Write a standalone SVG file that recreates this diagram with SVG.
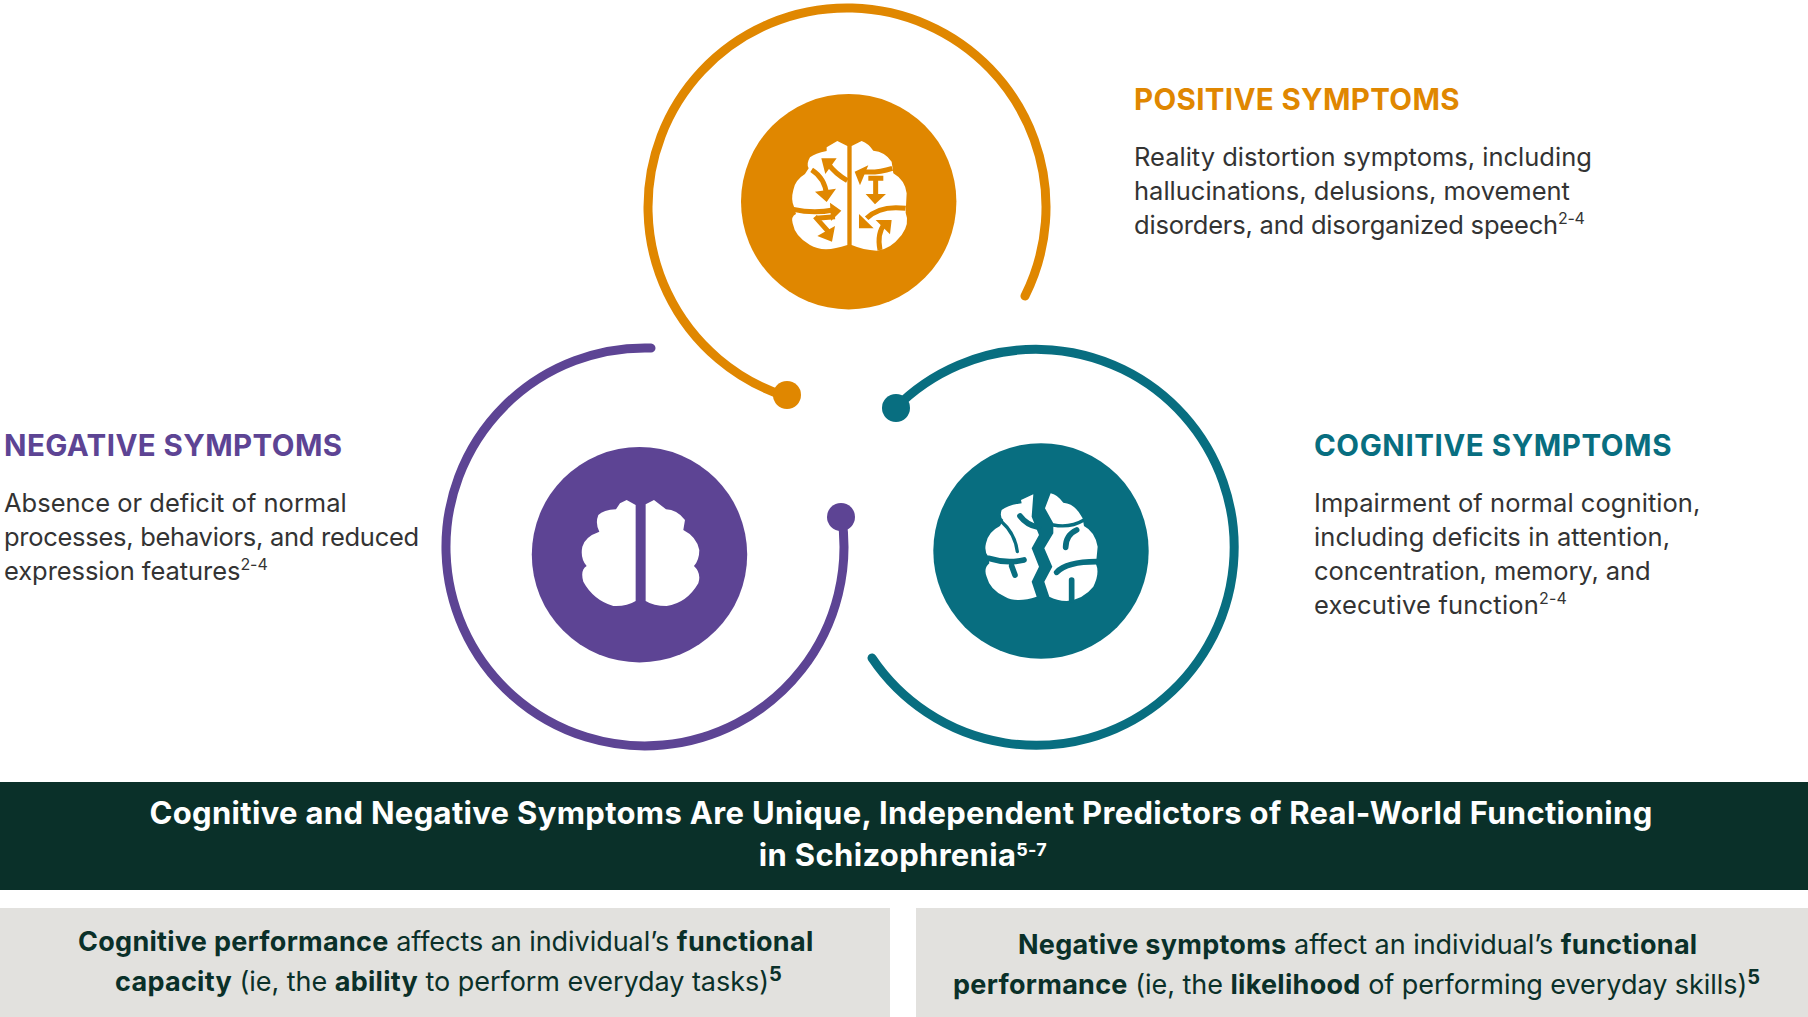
<svg xmlns="http://www.w3.org/2000/svg" width="1808" height="1017" viewBox="0 0 1808 1017">
<style>
text{font-family:"Inter","Liberation Sans",sans-serif}
.h{font-size:29.5px;font-weight:700}
.b{font-size:25.5px;fill:#333}
.s{font-size:16px;fill:#333}
.ban{font-size:31px;font-weight:700;fill:#fff;text-anchor:middle;letter-spacing:.32px}
.g{font-size:27px;fill:#0a3029;letter-spacing:-.05px}
.g tspan.B{font-weight:700;letter-spacing:.28px}
.ring{fill:none;stroke-width:9;stroke-linecap:round}
.w{fill:#fff}
</style>
<rect width="1808" height="1017" fill="#fff"/>
<g id="connectors">
<path class="ring" stroke="#e08700" d="M1025,296A199,199 0 1 0 785.3,396.2"/>
<circle cx="787" cy="395" r="14" fill="#e08700"/>
<path class="ring" stroke="#5d4494" d="M651,348A199,199 0 1 0 841.7,516.9"/>
<circle cx="841" cy="517" r="14" fill="#5d4494"/>
<path class="ring" stroke="#086e80" d="M895,408.5A198,198 0 1 1 872,658"/>
<circle cx="896" cy="408" r="14" fill="#086e80"/>
</g>
<g id="node-positive">
<circle cx="848.7" cy="201.7" r="107.7" fill="#e08700"/>
<g transform="translate(730 90) scale(.3333)">
<path class="w" d="M352,168L322,153L290,172L290,183Q255,190 240,202Q228,222 236,235L225,252Q195,270 190,300Q182,330 192,350L198,372Q182,380 188,400Q195,440 240,465Q280,490 352,465Z"/>
<path class="w" d="M365,168L395,153Q415,160 430,182Q465,185 485,215L490,250Q525,270 530,310L527,368Q540,400 515,435Q480,480 440,482Q400,480 365,465Z"/>
<g fill="none" stroke="#e08700" stroke-width="15">
<path d="M352,272Q315,250 295,222M245,240Q285,265 290,315M190,358Q250,372 310,360M258,385L315,380M255,380L295,425M487,235Q440,250 395,245M437,265L437,315M415,265L460,265M527,355Q450,345 410,385M450,480Q440,430 465,400"/>
</g>
<path fill="#e08700" d="M274,205L320,205L286,252ZM255,305L318,296L290,336ZM300,338L334,362L303,393ZM262,438L306,455L315,408ZM374,245L415,226L390,286ZM407,312L468,312L435,343ZM387,372L387,415L431,415ZM437,390L485,390L480,433Z"/>
</g>
<text class="h" x="1134" y="109.5" fill="#e08700" letter-spacing=".34">POSITIVE SYMPTOMS</text>
<text class="b" x="1134" y="166">Reality distortion symptoms, including</text>
<text class="b" x="1134" y="200">hallucinations, delusions, movement</text>
<text class="b" x="1134" y="234" letter-spacing="-.2">disorders, and disorganized speech<tspan class="s" dy="-10">2-4</tspan></text>
</g>
<g id="node-negative">
<circle cx="639.5" cy="554.7" r="107.7" fill="#5d4494"/>
<g transform="translate(520 440) scale(.3333)">
<path class="w" d="M347,195L320,180L300,190L288,208Q250,210 235,225Q225,250 238,275Q195,290 187,320Q180,355 200,378Q180,390 190,425Q220,480 280,498Q320,500 347,483Z"/>
<path class="w" d="M377,193L402,180L438,208Q470,208 495,240L490,270Q530,290 538,330Q538,360 522,378Q545,400 535,430Q500,490 440,498Q400,498 377,483Z"/>
</g>
<text class="h" x="4" y="455.5" fill="#5d4494" letter-spacing=".4">NEGATIVE SYMPTOMS</text>
<text class="b" x="4" y="512">Absence or deficit of normal</text>
<text class="b" x="4" y="546" letter-spacing="-.28">processes, behaviors, and reduced</text>
<text class="b" x="4" y="580" letter-spacing="-.06">expression features<tspan class="s" dy="-10">2-4</tspan></text>
</g>
<g id="node-cognitive">
<circle cx="1041" cy="551" r="107.7" fill="#086e80"/>
<g transform="translate(920 440) scale(.3333)">
<path class="w" d="M340,163L303,180L305,190Q265,195 245,210Q238,230 250,240L240,258Q205,275 198,310Q192,335 205,350L208,370Q190,385 200,410Q210,450 255,470Q290,490 350,470L335,425L357,380L335,325L357,285L335,230Z"/>
<path class="w" d="M392,160Q410,163 430,188Q465,190 488,235L492,258Q525,275 533,320L528,372Q540,400 520,440Q490,478 440,483Q410,482 388,470L373,425L397,380L373,325L400,280L400,250L375,205Z"/>
<g fill="none" stroke="#086e80" stroke-linecap="round">
<path stroke-width="10" d="M400,255Q450,265 492,240M245,245Q285,280 292,335"/>
<path stroke-width="17" d="M437,322Q437,285 470,270M410,397Q440,365 530,365M455,480L455,420M300,228Q320,255 355,262M205,355Q260,372 312,360M275,378L285,405"/>
</g>
</g>
<text class="h" x="1314" y="455.5" fill="#086e80" letter-spacing=".55">COGNITIVE SYMPTOMS</text>
<text class="b" x="1314" y="512" letter-spacing=".06">Impairment of normal cognition,</text>
<text class="b" x="1314" y="546" letter-spacing=".1">including deficits in attention,</text>
<text class="b" x="1314" y="580" letter-spacing="-.08">concentration, memory, and</text>
<text class="b" x="1314" y="614" letter-spacing=".19">executive function<tspan class="s" dy="-10">2-4</tspan></text>
</g>
<g id="banner">
<rect y="782" width="1808" height="108" fill="#0a3029"/>
<text class="ban" x="901" y="824">Cognitive and Negative Symptoms Are Unique, Independent Predictors of Real-World Functioning</text>
<text class="ban" x="903" y="866">in Schizophrenia<tspan font-size="18" dy="-10">5-7</tspan></text>
</g>
<g id="box-cognitive">
<rect y="908" width="890" height="109" fill="#e2e1de"/>
<text class="g" x="78" y="951"><tspan class="B">Cognitive performance</tspan> affects an individual’s <tspan class="B">functional</tspan></text>
<text class="g" x="115" y="991"><tspan class="B">capacity</tspan> (ie, the <tspan class="B">ability</tspan> to perform everyday tasks)<tspan class="B" font-size="20" dy="-10">5</tspan></text>
</g>
<g id="box-negative">
<rect x="916" y="908" width="892" height="109" fill="#e2e1de"/>
<text class="g" x="1018" y="954"><tspan class="B">Negative symptoms</tspan> affect an individual’s <tspan class="B">functional</tspan></text>
<text class="g" x="953" y="994"><tspan class="B">performance</tspan> (ie, the <tspan class="B">likelihood</tspan> of performing everyday skills)<tspan class="B" font-size="20" dy="-10">5</tspan></text>
</g>
</svg>
